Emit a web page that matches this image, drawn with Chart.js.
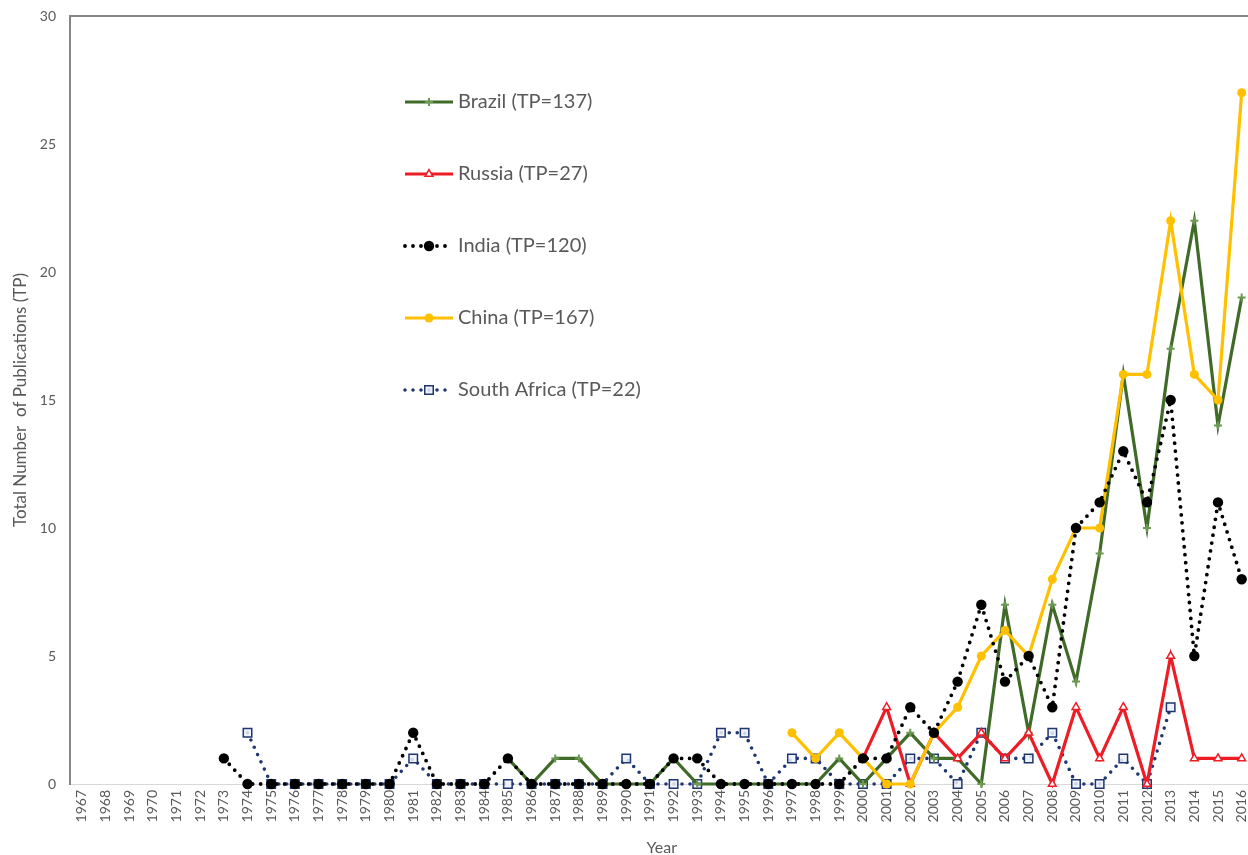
<!DOCTYPE html>
<html>
<head>
<meta charset="utf-8">
<title>BRICS publications by year</title>
<script src="https://cdn.jsdelivr.net/npm/chart.js@4.4.0/dist/chart.umd.min.js"></script>
<style>
  html, body { margin: 0; padding: 0; background: #ffffff; overflow: hidden; }
  #wrap { width: 1261px; height: 855px; }
</style>
</head>
<body>
<div id="wrap"><canvas id="c" width="1261" height="855"></canvas></div>
<script>
// Publication years (category axis)
const years = ['1967','1968','1969','1970','1971','1972','1973','1974','1975','1976',
  '1977','1978','1979','1980','1981','1982','1983','1984','1985','1986',
  '1987','1988','1989','1990','1991','1992','1993','1994','1995','1996',
  '1997','1998','1999','2000','2001','2002','2003','2004','2005','2006',
  '2007','2008','2009','2010','2011','2012','2013','2014','2015','2016'];

// Publications per year, one array per country (null = no record yet)
const brazil = [null,null,null,null,null,null,null,null,null,null,
  null,null,null,null,null,null,null,null,1,0,
  1,1,0,0,0,1,0,0,0,0,
  0,0,1,0,1,2,1,1,0,7,
  2,7,4,9,16,10,17,22,14,19];

const russia = [null,null,null,null,null,null,null,null,null,null,
  null,null,null,null,null,null,null,null,null,null,
  null,null,null,null,null,null,null,null,null,null,
  null,null,null,1,3,0,2,1,2,1,
  2,0,3,1,3,0,5,1,1,1];

const india = [null,null,null,null,null,null,1,0,0,0,
  0,0,0,0,2,0,0,0,1,0,
  0,0,0,0,0,1,1,0,0,0,
  0,0,0,1,1,3,2,4,7,4,
  5,3,10,11,13,11,15,5,11,8];

const china = [null,null,null,null,null,null,null,null,null,null,
  null,null,null,null,null,null,null,null,null,null,
  null,null,null,null,null,null,null,null,null,null,
  2,1,2,1,0,0,2,3,5,6,
  5,8,10,10,16,16,22,16,15,27];

const southAfrica = [null,null,null,null,null,null,null,2,0,0,
  0,0,0,0,1,0,0,0,0,0,
  0,0,0,1,0,0,0,2,2,0,
  1,1,0,0,0,1,1,0,2,1,
  1,2,0,0,1,0,3,null,null,null];

// Series labels and y-axis ticks
const seriesLabels = ['Brazil (TP=137)', 'Russia (TP=27)', 'India (TP=120)', 'China (TP=167)', 'South Africa (TP=22)'];
const yTicks = [0, 5, 10, 15, 20, 25, 30];

const TEXT = '#595959';

// Legend drawn inside the plot, one row per series
const insideLegend = {
  id: 'insideLegend',
  afterDatasetsDraw(chart, args, opts) {
    const ctx = chart.ctx;
    chart.data.datasets.forEach((ds, i) => {
      const y = opts.top + i * opts.gap;
      const x0 = opts.left, x1 = opts.left + opts.sample;
      ctx.save();
      ctx.strokeStyle = ds.borderColor;
      ctx.lineWidth = ds.borderWidth;
      ctx.lineCap = ds.borderCapStyle || 'butt';
      ctx.setLineDash(ds.borderDash || []);
      ctx.beginPath();
      ctx.moveTo(x0, y);
      ctx.lineTo(x1, y);
      ctx.stroke();
      ctx.setLineDash([]);
      ctx.fillStyle = ds.pointBackgroundColor;
      ctx.strokeStyle = ds.pointBorderColor;
      ctx.lineWidth = ds.pointBorderWidth;
      Chart.helpers.drawPoint(ctx, {
        pointStyle: ds.pointStyle,
        radius: ds.pointRadius,
        rotation: 0,
        borderWidth: ds.pointBorderWidth
      }, (x0 + x1) / 2, y);
      ctx.fillStyle = TEXT;
      ctx.font = opts.font;
      ctx.textBaseline = 'middle';
      ctx.textAlign = 'left';
      ctx.fillText(ds.label, x1 + 5, y);
      ctx.restore();
    });
  }
};

// Top frame line of the plot area
const topFrame = {
  id: 'topFrame',
  beforeDatasetsDraw(chart) {
    const { ctx, chartArea } = chart;
    ctx.save();
    ctx.strokeStyle = '#868686';
    ctx.lineWidth = 2;
    ctx.beginPath();
    ctx.moveTo(chartArea.left - 1, chartArea.top);
    ctx.lineTo(chartArea.right, chartArea.top);
    ctx.stroke();
    ctx.restore();
  }
};

Chart.defaults.font.family = 'Lato, "Open Sans", sans-serif';
Chart.defaults.color = TEXT;

const dotted = [0, 8];

new Chart(document.getElementById('c'), {
  type: 'line',
  data: {
    labels: years,
    datasets: [
      {
        label: seriesLabels[0], data: brazil, order: 4,
        borderColor: '#3f6a28', borderWidth: 3.2,
        pointStyle: 'cross', pointRadius: 4, pointBorderWidth: 2,
        pointBorderColor: '#6d9a52', pointBackgroundColor: '#6d9a52'
      },
      {
        label: seriesLabels[1], data: russia, order: 3,
        borderColor: '#ee1c25', borderWidth: 3.2,
        pointStyle: 'triangle', pointRadius: 4.5, pointBorderWidth: 1.5,
        pointBorderColor: '#ee1c25', pointBackgroundColor: '#ffffff'
      },
      {
        label: seriesLabels[2], data: india, order: 1,
        borderColor: '#000000', borderWidth: 3.8, borderDash: dotted, borderCapStyle: 'round',
        pointStyle: 'circle', pointRadius: 5.2, pointBorderWidth: 0,
        pointBorderColor: '#000000', pointBackgroundColor: '#000000'
      },
      {
        label: seriesLabels[3], data: china, order: 2,
        borderColor: '#ffc000', borderWidth: 3.2,
        pointStyle: 'circle', pointRadius: 4.5, pointBorderWidth: 0,
        pointBorderColor: '#ffc000', pointBackgroundColor: '#ffc000'
      },
      {
        label: seriesLabels[4], data: southAfrica, order: 5,
        borderColor: '#1f3670', borderWidth: 3.6, borderDash: dotted, borderCapStyle: 'round',
        pointStyle: 'rect', pointRadius: 6, pointBorderWidth: 1.5,
        pointBorderColor: '#1f3670', pointBackgroundColor: 'rgba(236,241,250,0.85)'
      }
    ].map(d => Object.assign({ fill: false, tension: 0, clip: false, pointHoverRadius: d.pointRadius }, d))
  },
  options: {
    responsive: false,
    animation: false,
    devicePixelRatio: 1,
    layout: { padding: { top: 16, left: 0, right: 0, bottom: 0 } },
    plugins: {
      legend: { display: false },
      tooltip: { enabled: false },
      insideLegend: { left: 405, top: 102, gap: 72, sample: 48, font: '20px Lato' }
    },
    scales: {
      x: {
        type: 'category',
        offset: true,
        grid: { display: false, drawTicks: false },
        border: { display: true, color: '#d9d9d9', width: 1 },
        ticks: { autoSkip: false, maxRotation: 90, minRotation: 90, padding: 6, color: TEXT, font: { size: 14 } },
        title: { display: true, text: 'Year', color: TEXT, font: { size: 16 }, padding: { top: 0, bottom: -2 } },
        afterFit(s) { s.height = 71; s.paddingLeft = 0; s.paddingRight = 0; }
      },
      y: {
        min: 0, max: 30,
        afterBuildTicks(s) { s.ticks = yTicks.map(v => ({ value: v })); },
        grid: { display: false, drawTicks: false },
        border: { display: true, color: '#868686', width: 2 },
        ticks: { padding: 14, color: TEXT, font: { size: 14 } },
        title: { display: true, text: 'Total Number  of Publications (TP)', color: TEXT, font: { size: 17 }, padding: { top: 10, bottom: 0 } },
        afterFit(s) { s.width = 70; s.paddingTop = 0; s.paddingBottom = 0; }
      }
    }
  },
  plugins: [topFrame, insideLegend]
});
</script>
</body>
</html>
